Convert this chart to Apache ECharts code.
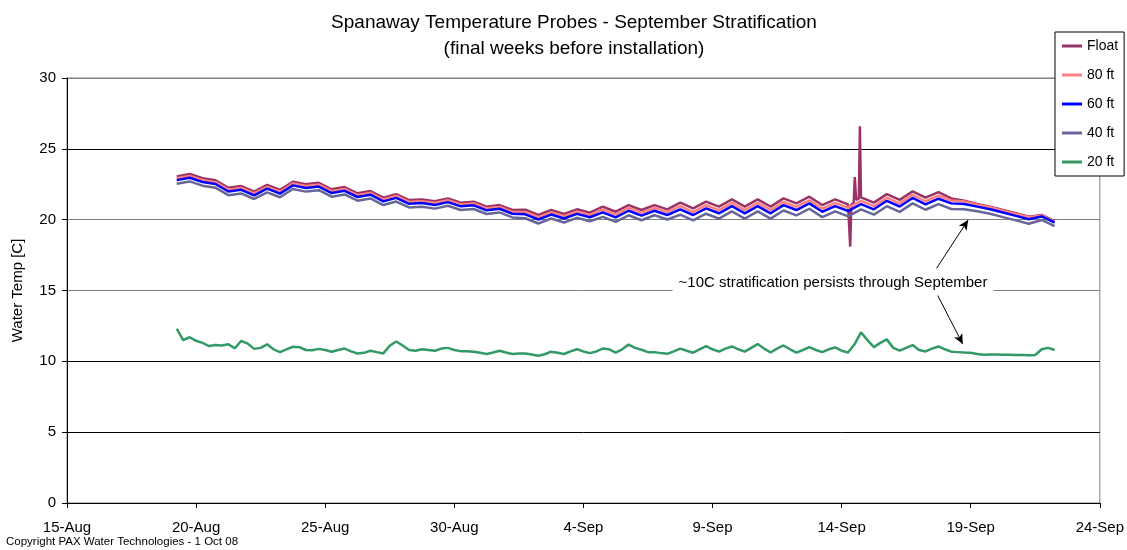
<!DOCTYPE html>
<html>
<head>
<meta charset="utf-8">
<script src="https://cdn.jsdelivr.net/npm/echarts@6.0.0/dist/echarts.min.js"></script>
<style>
html, body { margin: 0; padding: 0; background: #fff; }
#chart { width: 1127px; height: 550px; }
</style>
</head>
<body>
<div id="chart"></div>
<script>
// x values are days counted from 15-Aug-2008 00:00
var xTickLabels = ['15-Aug', '20-Aug', '25-Aug', '30-Aug', '4-Sep', '9-Sep', '14-Sep', '19-Sep', '24-Sep'];
var seriesNames = ['Float', '80 ft', '60 ft', '40 ft', '20 ft'];
var seriesColors = ['#993366', '#ff8080', '#0000ff', '#666699', '#339966'];

// upper probes: one reading every 12 h from 19-Aug 06:00
var probeStart = 4.25, probeStep = 0.5;
var floatTemp = [
	23.05, 23.22, 22.92, 22.78, 22.25, 22.37, 21.98, 22.45, 22.10, 22.68,
	22.50, 22.60, 22.14, 22.30, 21.86, 22.02, 21.55, 21.80, 21.38, 21.43,
	21.30, 21.50, 21.20, 21.27, 20.92, 21.03, 20.68, 20.70, 20.33, 20.68,
	20.40, 20.73, 20.49, 20.92, 20.56, 21.03, 20.68, 21.03, 20.73, 21.20,
	20.80, 21.27, 20.92, 21.43, 20.92, 21.43, 20.92, 21.50, 21.15, 21.62,
	21.03, 21.43, 21.08, 21.57, 21.20, 21.80, 21.40, 22.00, 21.55, 21.95,
	21.50, 21.34, 21.10, 20.92, 20.68, 20.45, 20.21, 20.33, 19.90
];
var ft80Temp = [
	22.92, 23.09, 22.79, 22.65, 22.12, 22.24, 21.85, 22.32, 21.97, 22.55,
	22.37, 22.47, 22.01, 22.17, 21.73, 21.89, 21.42, 21.67, 21.25, 21.30,
	21.17, 21.37, 21.07, 21.14, 20.79, 20.90, 20.55, 20.54, 20.17, 20.52,
	20.24, 20.57, 20.33, 20.72, 20.36, 20.83, 20.48, 20.83, 20.53, 20.95,
	20.55, 21.02, 20.67, 21.18, 20.67, 21.18, 20.67, 21.25, 20.90, 21.37,
	20.78, 21.18, 20.83, 21.32, 20.95, 21.55, 21.15, 21.75, 21.30, 21.70,
	21.35, 21.29, 21.06, 20.88, 20.64, 20.41, 20.17, 20.30, 19.87
];
var ft60Temp = [
	22.79, 22.96, 22.66, 22.52, 21.99, 22.11, 21.72, 22.19, 21.84, 22.42,
	22.24, 22.34, 21.88, 22.04, 21.60, 21.76, 21.29, 21.54, 21.12, 21.17,
	21.04, 21.24, 20.94, 21.01, 20.66, 20.77, 20.42, 20.38, 20.01, 20.36,
	20.08, 20.41, 20.17, 20.52, 20.16, 20.63, 20.28, 20.63, 20.33, 20.73,
	20.33, 20.80, 20.45, 20.96, 20.45, 20.96, 20.45, 21.03, 20.68, 21.15,
	20.56, 20.96, 20.61, 21.10, 20.73, 21.33, 20.93, 21.53, 21.08, 21.48,
	21.15, 21.11, 20.92, 20.74, 20.50, 20.27, 20.03, 20.23, 19.80
];
var ft40Temp = [
	22.53, 22.70, 22.40, 22.26, 21.73, 21.85, 21.46, 21.93, 21.58, 22.16,
	21.98, 22.08, 21.62, 21.78, 21.34, 21.50, 21.03, 21.28, 20.86, 20.91,
	20.78, 20.98, 20.68, 20.75, 20.40, 20.51, 20.16, 20.10, 19.73, 20.08,
	19.80, 20.13, 19.89, 20.20, 19.84, 20.31, 19.96, 20.31, 20.01, 20.35,
	19.95, 20.42, 20.07, 20.58, 20.07, 20.58, 20.07, 20.65, 20.30, 20.77,
	20.18, 20.58, 20.23, 20.72, 20.35, 20.95, 20.55, 21.15, 20.70, 21.10,
	20.75, 20.74, 20.60, 20.42, 20.18, 19.95, 19.71, 19.98, 19.55
];
// short spikes of the float probe on 14-Sep
var floatSpikeDays = [30.292, 30.333, 30.375, 30.469, 30.510, 30.5625, 30.667, 30.708];
var floatSpikeTemp = [21.05, 18.10, 21.05, 21.20, 23.00, 21.40, 21.50, 26.60];

// 20 ft probe: one reading every 6 h from 19-Aug 06:00
var deepStart = 4.25, deepStep = 0.25;
var ft20Temp = [
	12.30, 11.50, 11.70, 11.45, 11.30, 11.08, 11.15, 11.12, 11.20, 10.92,
	11.45, 11.25, 10.88, 10.95, 11.20, 10.85, 10.65, 10.85, 11.03, 11.00,
	10.80, 10.78, 10.88, 10.80, 10.68, 10.80, 10.90, 10.70, 10.55, 10.60,
	10.75, 10.65, 10.56, 11.10, 11.40, 11.12, 10.80, 10.75, 10.85, 10.80,
	10.75, 10.90, 10.95, 10.80, 10.72, 10.72, 10.68, 10.60, 10.52, 10.62,
	10.75, 10.62, 10.52, 10.55, 10.56, 10.48, 10.40, 10.50, 10.68, 10.60,
	10.52, 10.70, 10.85, 10.70, 10.58, 10.70, 10.90, 10.85, 10.62, 10.85,
	11.18, 10.95, 10.82, 10.65, 10.65, 10.58, 10.53, 10.70, 10.90, 10.75,
	10.61, 10.85, 11.08, 10.85, 10.68, 10.90, 11.05, 10.85, 10.68, 10.95,
	11.22, 10.90, 10.62, 10.90, 11.12, 10.85, 10.61, 10.80, 11.00, 10.80,
	10.65, 10.85, 10.98, 10.75, 10.62, 11.20, 12.05, 11.50, 11.00, 11.30,
	11.55, 10.95, 10.75, 10.95, 11.15, 10.80, 10.70, 10.90, 11.05, 10.85,
	10.68, 10.65, 10.62, 10.60, 10.52, 10.47, 10.48, 10.48, 10.47, 10.46,
	10.45, 10.44, 10.43, 10.45, 10.85, 10.95, 10.80
];

// arrows of the note, in data units [day, temp]
var arrowFrom = [[33.68, 16.57], [33.68, 14.80]];
var arrowTo = [[34.90, 19.98], [34.69, 11.22]];
var noteText = '~10C stratification persists through September';

var fontName = '"Liberation Sans", Arial, sans-serif';

function pairs(start, step, vals) {
	return vals.map(function (v, i) { return [start + i * step, v]; });
}

var floatData = pairs(probeStart, probeStep, floatTemp)
	.concat(floatSpikeDays.map(function (d, i) { return [d, floatSpikeTemp[i]]; }))
	.sort(function (a, b) { return a[0] - b[0]; });

var seriesData = [
	floatData,
	pairs(probeStart, probeStep, ft80Temp),
	pairs(probeStart, probeStep, ft60Temp),
	pairs(probeStart, probeStep, ft40Temp),
	pairs(deepStart, deepStep, ft20Temp)
];

var chart = echarts.init(document.getElementById('chart'));

var series = seriesNames.map(function (name, i) {
	return {
		name: name,
		type: 'line',
		data: seriesData[i],
		showSymbol: false,
		symbol: 'none',
		smooth: false,
		lineStyle: { color: seriesColors[i], width: 2.5 },
		itemStyle: { color: seriesColors[i] }
	};
});

series[4].markLine = {
	silent: true,
	symbol: ['none', 'arrow'],
	symbolSize: [7, 10],
	label: { show: false },
	lineStyle: { color: '#000', width: 1, type: 'solid' },
	data: arrowFrom.map(function (p, i) {
		return [{ coord: p }, { coord: arrowTo[i] }];
	})
};

chart.setOption({
	animation: false,
	backgroundColor: '#fff',
	textStyle: { fontFamily: fontName },
	title: {
		text: 'Spanaway Temperature Probes - September Stratification',
		subtext: '(final weeks before installation)',
		left: 569,
		top: 7,
		textAlign: 'center',
		itemGap: 4,
		textStyle: { fontSize: 19, fontWeight: 'normal', color: '#000', fontFamily: fontName, lineHeight: 22 },
		subtextStyle: { fontSize: 19, color: '#000', fontFamily: fontName, lineHeight: 22 }
	},
	legend: {
		data: seriesNames,
		orient: 'vertical',
		left: 1055,
		top: 32,
		padding: [7, 6, 7, 7],
		itemGap: 15,
		itemWidth: 20,
		itemHeight: 3,
		icon: 'rect',
		backgroundColor: '#fff',
		borderColor: '#000',
		borderWidth: 1,
		textStyle: { fontSize: 14, lineHeight: 14, color: '#000', fontFamily: fontName }
	},
	grid: {
		left: 67,
		right: 27,
		top: 78,
		bottom: 47,
		show: true,
		borderColor: '#808080',
		borderWidth: 1
	},
	xAxis: {
		type: 'value',
		min: 0,
		max: 40,
		interval: 5,
		axisLine: { lineStyle: { color: '#000', width: 1 } },
		axisTick: { length: 5, lineStyle: { color: '#000' } },
		splitLine: { show: false },
		axisLabel: {
			fontSize: 15,
			color: '#000',
			margin: 17,
			formatter: function (v) { return xTickLabels[Math.round(v / 5)]; }
		}
	},
	yAxis: {
		type: 'value',
		min: 0,
		max: 30,
		interval: 5,
		name: 'Water Temp [C]',
		nameLocation: 'middle',
		nameRotate: 90,
		nameGap: 42,
		nameTextStyle: { fontSize: 15, color: '#000' },
		axisLine: { show: true, lineStyle: { color: '#000', width: 1 } },
		axisTick: { show: true, length: 5, lineStyle: { color: '#000' } },
		axisLabel: { fontSize: 15, color: '#000', margin: 11 },
		splitLine: {
			show: true,
			lineStyle: { color: ['#000', '#000', '#000', '#808080', '#808080', '#000', '#808080'], width: 1 }
		}
	},
	graphic: [
		{
			type: 'text',
			x: 833,
			y: 283,
			z: 100,
			style: {
				text: noteText,
				font: '15px ' + fontName,
				fill: '#000',
				textAlign: 'center',
				textVerticalAlign: 'middle',
				align: 'center',
				verticalAlign: 'middle',
				backgroundColor: '#fff',
				padding: [5, 6]
			}
		},
		{
			type: 'text',
			x: 6,
			y: 542,
			style: {
				text: 'Copyright PAX Water Technologies - 1 Oct 08',
				font: '11.5px ' + fontName,
				fill: '#000',
				textVerticalAlign: 'middle',
				verticalAlign: 'middle'
			}
		}
	],
	series: series
});
</script>
</body>
</html>
